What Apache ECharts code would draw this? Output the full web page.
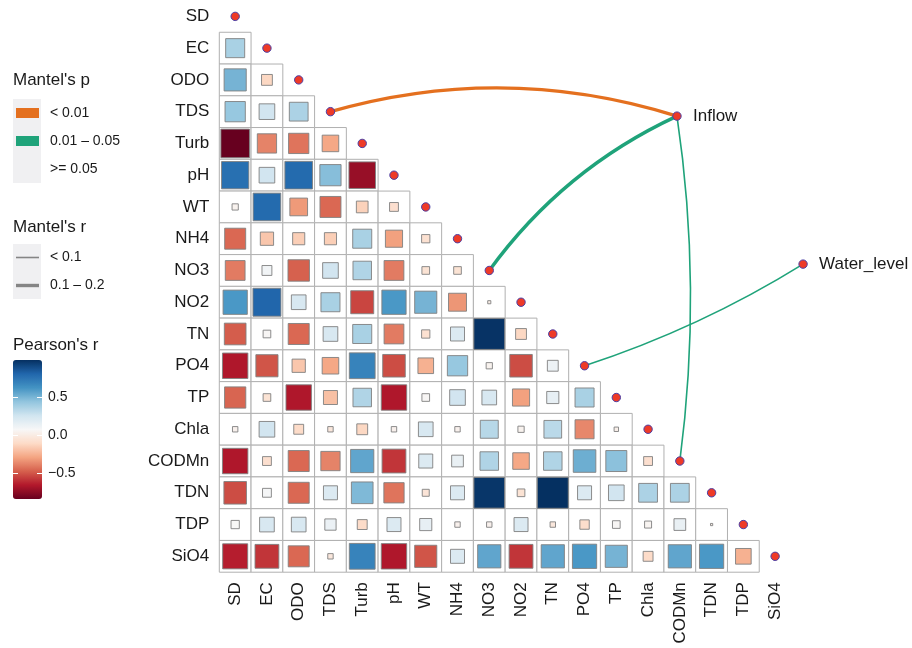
<!DOCTYPE html>
<html>
<head>
<meta charset="utf-8">
<script src="https://cdn.jsdelivr.net/npm/echarts@6/dist/echarts.min.js"></script>
<style>
html,body{margin:0;padding:0;background:#fff;}
#chart{width:912px;height:648px;}
</style>
</head>
<body>
<div id="chart"></div>
<script>
// ---------- data ----------
const vars = ['SD','EC','ODO','TDS','Turb','pH','WT','NH4','NO3','NO2','TN','PO4','TP','Chla','CODMn','TDN','TDP','SiO4'];

// lower triangle of Pearson's r: row i holds columns 0..i-1
const pearsonLower = [
  [],
  [0.37],
  [0.50, -0.12],
  [0.42, 0.25, 0.36],
  [-0.835, -0.38, -0.42, -0.28],
  [0.76, 0.25, 0.78, 0.46, -0.72],
  [0.04, 0.78, -0.32, -0.45, -0.14, -0.08],
  [-0.45, -0.18, -0.15, -0.15, 0.37, -0.30, -0.07],
  [-0.40, 0.10, -0.47, 0.25, 0.35, -0.40, -0.06, -0.06],
  [0.60, 0.80, 0.22, 0.37, -0.54, 0.60, 0.50, -0.33, 0.01],
  [-0.48, 0.06, -0.45, 0.22, 0.37, -0.40, -0.07, 0.20, 0.97, -0.12],
  [-0.66, -0.50, -0.18, -0.28, 0.68, -0.52, -0.25, 0.42, 0.04, -0.52, 0.12],
  [-0.46, -0.06, -0.66, -0.20, 0.35, -0.66, 0.06, 0.25, 0.22, -0.30, 0.15, 0.37],
  [0.03, 0.25, -0.10, -0.03, -0.12, 0.03, 0.22, 0.03, 0.33, 0.04, 0.32, -0.37, 0.02],
  [-0.66, -0.08, -0.45, -0.38, 0.55, -0.58, 0.20, 0.14, 0.35, -0.28, 0.35, 0.52, 0.45, -0.08],
  [-0.52, 0.08, -0.45, 0.20, 0.48, -0.42, -0.05, 0.20, 0.96, -0.06, 0.98, 0.20, 0.25, 0.36, 0.36],
  [0.07, 0.22, 0.22, 0.13, -0.10, 0.20, 0.15, 0.03, 0.03, 0.20, -0.03, -0.09, 0.06, 0.05, 0.14, 0.005],
  [-0.64, -0.58, -0.45, -0.03, 0.68, -0.66, -0.50, 0.20, 0.55, -0.58, 0.55, 0.60, 0.50, -0.10, 0.55, 0.60, -0.25]
];

// environmental factors (position in matrix units) and Mantel links
const envNames = ['Inflow', 'Water_level'];
const envX = [13.91, 17.88];
const envY = [3.14, 7.80];
const linkEnv = [0, 0, 0, 1];
const linkVar = ['TDS', 'NO3', 'CODMn', 'PO4'];
const linkP = ['< 0.01', '0.01 – 0.05', '0.01 – 0.05', '0.01 – 0.05'];
const linkR = ['0.1 – 0.2', '0.1 – 0.2', '< 0.1', '< 0.1'];
const linkCurv = [-0.15, -0.13, 0.07, 0.06];

const pLevels = ['< 0.01', '0.01 – 0.05', '>= 0.05'];
const rLevels = ['< 0.1', '0.1 – 0.2'];
const colorTicks = [0.5, 0.0, -0.5];
const rMin = -0.835, rMax = 0.98;

// ---------- styles ----------
const pColors = {'< 0.01': '#E4701F', '0.01 – 0.05': '#1FA37A', '>= 0.05': '#F0F0F2'};
const rWidths = {'< 0.1': 1.6, '0.1 – 0.2': 3.4};
const RdBu = ['#67001F','#B2182B','#D6604D','#F4A582','#FDDBC7','#F7F7F7','#D1E5F0','#92C5DE','#4393C3','#2166AC','#053061'];
const FONT = 'Liberation Sans, Arial, Helvetica, sans-serif';
const TXT = '#1A1A1A';

// ---------- build series data ----------
const cellData = [], sqData = [], diagData = [];
pearsonLower.forEach((row, i) => {
  row.forEach((r, j) => { cellData.push([j, i]); sqData.push([j, i, r]); });
  diagData.push([i, i]);
});
const linkData = linkEnv.map((e, k) => [e, vars.indexOf(linkVar[k]), k]);
const envData = envNames.map((n, k) => [envX[k], envY[k], k]);

const chart = echarts.init(document.getElementById('chart'), null, {renderer: 'canvas'});

// colorbar geometry (legend)
const cbLeft = 13, cbTop = 360, cbW = 29, cbH = 139;
const yOfVal = v => cbTop + (rMax - v) / (rMax - rMin) * cbH;

const graphics = [];
function txt(x, y, s, size) {
  graphics.push({type: 'text', x: x, y: y,
    style: {text: s, fill: TXT, font: size + 'px ' + FONT, verticalAlign: 'middle', align: 'left'}});
}
// Mantel's p legend
txt(13, 80, "Mantel's p", 17);
graphics.push({type: 'rect', shape: {x: 13, y: 99, width: 28, height: 84}, style: {fill: '#F0F0F2'}});
pLevels.forEach((p, k) => {
  const yc = 113 + k * 28;
  graphics.push({type: 'rect', shape: {x: 16, y: yc - 5, width: 23, height: 10}, style: {fill: pColors[p]}});
  txt(50, yc, p, 14);
});
// Mantel's r legend
txt(13, 227, "Mantel's r", 17);
graphics.push({type: 'rect', shape: {x: 13, y: 244, width: 28, height: 55}, style: {fill: '#F0F0F2'}});
rLevels.forEach((r, k) => {
  const yc = 257.5 + k * 28;
  graphics.push({type: 'line', shape: {x1: 16, y1: yc, x2: 39, y2: yc}, style: {stroke: '#858585', lineWidth: rWidths[r]}});
  txt(50, yc, r, 14);
});
// Pearson's r legend
txt(13, 345, "Pearson's r", 17);
colorTicks.forEach(v => {
  const y = Math.round(yOfVal(v)) + 0.5;
  graphics.push({type: 'line', z: 100, shape: {x1: cbLeft, y1: y, x2: cbLeft + 5, y2: y}, style: {stroke: '#fff', lineWidth: 1}});
  graphics.push({type: 'line', z: 100, shape: {x1: cbLeft + cbW - 5, y1: y, x2: cbLeft + cbW, y2: y}, style: {stroke: '#fff', lineWidth: 1}});
  txt(48, y, (v < 0 ? '−' : '') + Math.abs(v).toFixed(1), 14);
});

const option = {
  backgroundColor: '#ffffff',
  animation: false,
  textStyle: {fontFamily: FONT},
  grid: {left: 219.3, top: 0.5, width: 571.7, height: 571.7},
  xAxis: [
    {type: 'category', data: vars, position: 'bottom', boundaryGap: true,
     axisLine: {show: false}, axisTick: {show: false}, splitLine: {show: false},
     axisLabel: {rotate: 90, margin: 10, fontSize: 17, color: TXT, fontFamily: FONT, interval: 0}},
    {type: 'value', min: -0.5, max: 17.5, show: false}
  ],
  yAxis: [
    {type: 'category', data: vars, inverse: true, boundaryGap: true,
     axisLine: {show: false}, axisTick: {show: false}, splitLine: {show: false},
     axisLabel: {margin: 10, fontSize: 17, color: TXT, fontFamily: FONT, interval: 0}},
    {type: 'value', min: -0.5, max: 17.5, inverse: true, show: false}
  ],
  visualMap: {
    type: 'continuous', min: rMin, max: rMax, dimension: 2, seriesIndex: 1,
    left: cbLeft, top: cbTop, itemWidth: cbW, itemHeight: cbH, padding: 0,
    calculable: false, text: null, orient: 'vertical',
    inRange: {color: RdBu}
  },
  graphic: graphics,
  series: [
    { // grid cells
      type: 'custom', xAxisIndex: 1, yAxisIndex: 1, data: cellData, silent: true, z: 1,
      renderItem: (params, api) => {
        const c = api.coord([api.value(0), api.value(1)]);
        const sz = api.size([1, 1]);
        const w = Math.abs(sz[0]), h = Math.abs(sz[1]);
        return {type: 'rect', shape: {x: c[0] - w / 2, y: c[1] - h / 2, width: w, height: h},
                style: {fill: '#fff', stroke: '#B0B0B0', lineWidth: 1}};
      }
    },
    { // correlation squares
      type: 'custom', xAxisIndex: 1, yAxisIndex: 1, data: sqData, z: 2,
      encode: {x: 0, y: 1},
      renderItem: (params, api) => {
        const c = api.coord([api.value(0), api.value(1)]);
        const sz = api.size([1, 1]);
        const s = Math.sqrt(Math.abs(api.value(2))) * Math.abs(sz[0]) * 0.985;
        return {type: 'rect', shape: {x: c[0] - s / 2, y: c[1] - s / 2, width: s, height: s},
                style: {fill: api.visual('color'), stroke: '#808080', lineWidth: 0.9}};
      }
    },
    { // Mantel links
      type: 'custom', xAxisIndex: 1, yAxisIndex: 1, data: linkData, z: 3, silent: true,
      renderItem: (params, api) => {
        const e = api.value(0), v = api.value(1), k = api.value(2);
        const p1 = api.coord([envX[e], envY[e]]);
        const p2 = api.coord([v, v]);
        const c = linkCurv[k];
        const cpx = (p1[0] + p2[0]) / 2 - (p1[1] - p2[1]) * c;
        const cpy = (p1[1] + p2[1]) / 2 - (p2[0] - p1[0]) * c;
        return {type: 'bezierCurve',
                shape: {x1: p1[0], y1: p1[1], x2: p2[0], y2: p2[1], cpx1: cpx, cpy1: cpy},
                style: {stroke: pColors[linkP[k]], lineWidth: rWidths[linkR[k]], fill: null}};
      }
    },
    { // diagonal dots
      type: 'custom', xAxisIndex: 1, yAxisIndex: 1, data: diagData, z: 4, silent: true,
      renderItem: (params, api) => {
        const c = api.coord([api.value(0), api.value(1)]);
        return {type: 'circle', shape: {cx: c[0], cy: c[1], r: 4.2},
                style: {fill: '#EE3A27', stroke: '#4B3FA6', lineWidth: 1}};
      }
    },
    { // environment nodes
      type: 'custom', xAxisIndex: 1, yAxisIndex: 1, data: envData, z: 5, silent: true,
      renderItem: (params, api) => {
        const k = api.value(2);
        const c = api.coord([api.value(0), api.value(1)]);
        return {type: 'group', children: [
          {type: 'circle', shape: {cx: c[0], cy: c[1], r: 4.2},
           style: {fill: '#EE3A27', stroke: '#4B3FA6', lineWidth: 1}},
          {type: 'text', x: c[0] + 16, y: c[1],
           style: {text: envNames[k], fill: TXT, font: '17px ' + FONT, verticalAlign: 'middle', align: 'left'}}
        ]};
      }
    }
  ]
};
chart.setOption(option);
</script>
</body>
</html>
